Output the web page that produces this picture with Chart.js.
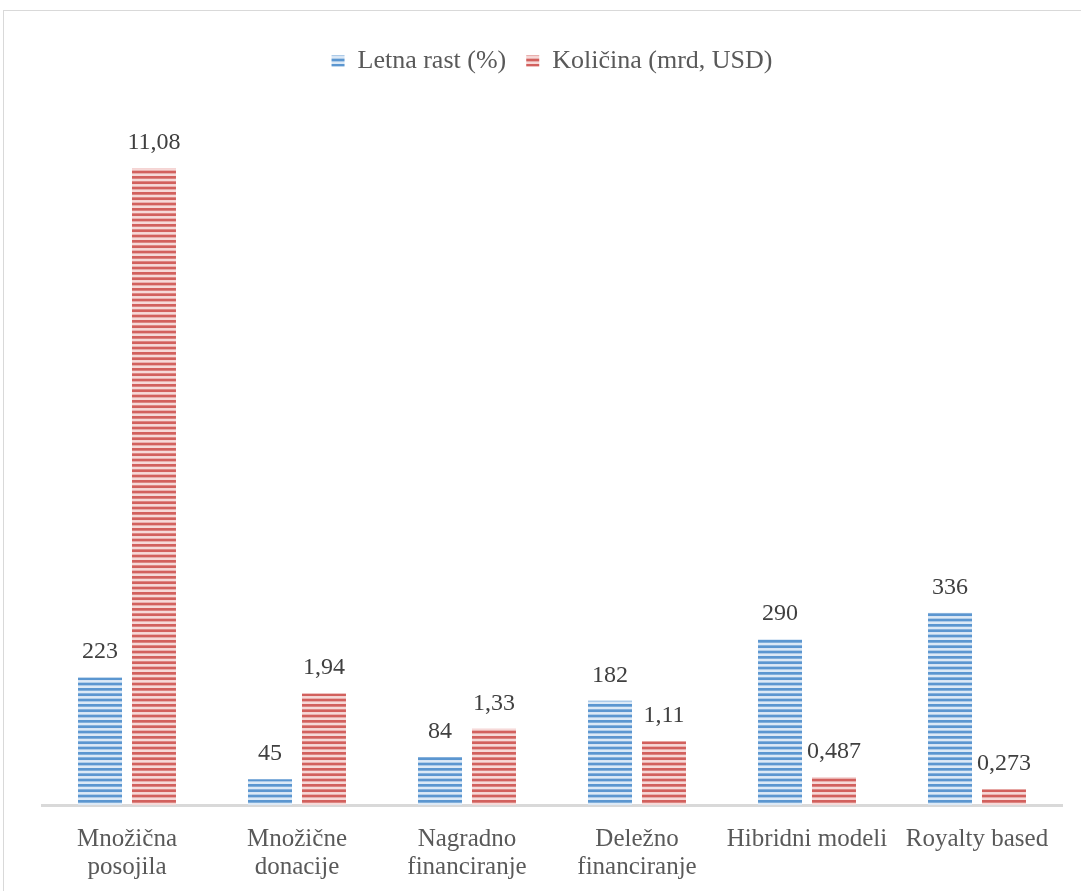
<!DOCTYPE html>
<html>
<head>
<meta charset="utf-8">
<script src="https://cdn.jsdelivr.net/npm/chart.js@4/dist/chart.umd.min.js"></script>
<style>
  html, body { margin: 0; padding: 0; background: #fff; overflow: hidden; }
  #wrap { position: relative; width: 1081px; height: 891px; }
  #frame { position: absolute; left: 3px; top: 10px; width: 1200px; height: 1000px; border: 1.5px solid #d9d9d9; box-sizing: border-box; }
  canvas { position: absolute; left: 0; top: 0; }
</style>
</head>
<body>
<div id="wrap">
  <div id="frame"></div>
  <canvas id="c" width="1081" height="891"></canvas>
</div>
<script>
const categories = [
  ["Množična", "posojila"],
  ["Množične", "donacije"],
  ["Nagradno", "financiranje"],
  ["Deležno", "financiranje"],
  ["Hibridni modeli"],
  ["Royalty based"]
];
const seriesNames = ["Letna rast (%)", "Količina (mrd, USD)"];
const letnaRast = [223, 45, 84, 182, 290, 336];
const kolicina = [11.08, 1.94, 1.33, 1.11, 0.487, 0.273];

function makePattern(dark, light) {
  const c = document.createElement('canvas');
  c.width = 8; c.height = 16;
  const x = c.getContext('2d');
  x.fillStyle = light; x.fillRect(0, 0, 8, 16);
  x.fillStyle = dark;
  for (let i = 0; i < 3; i++) x.fillRect(0, i * 16 / 3, 8, 2.7);
  return x.createPattern(c, 'repeat');
}
const blueFill = makePattern('#5b96d0', '#dce9f6');
const redFill = makePattern('#d2605d', '#f6d9d8');

const FONT = '"Liberation Serif", "DejaVu Serif", serif';

const valueLabels = {
  id: 'valueLabels',
  afterDatasetsDraw(chart) {
    const ctx = chart.ctx;
    ctx.save();
    ctx.font = '24px ' + FONT;
    ctx.fillStyle = '#404040';
    ctx.textAlign = 'center';
    ctx.textBaseline = 'alphabetic';
    chart.data.datasets.forEach((ds, di) => {
      const meta = chart.getDatasetMeta(di);
      meta.data.forEach((el, i) => {
        const txt = String(ds.data[i]).replace('.', ',');
        ctx.fillText(txt, el.x, el.y - 19);
      });
    });
    ctx.restore();
  }
};

new Chart(document.getElementById('c'), {
  type: 'bar',
  data: {
    labels: categories,
    datasets: [
      { label: seriesNames[0], data: letnaRast, backgroundColor: blueFill, yAxisID: 'y', borderWidth: 0 },
      { label: seriesNames[1], data: kolicina, backgroundColor: redFill, yAxisID: 'y2', borderWidth: 0 }
    ]
  },
  options: {
    responsive: false,
    animation: false,
    events: [],
    categoryPercentage: 0.635,
    barPercentage: 0.815,
    layout: { padding: { left: 42, right: 19, top: 28, bottom: -2 } },
    plugins: {
      tooltip: { enabled: false },
      legend: {
        position: 'top',
        labels: {
          font: { family: FONT, size: 26 },
          color: '#595959',
          boxWidth: 13,
          boxHeight: 11,
          padding: 20
        }
      }
    },
    scales: {
      x: {
        grid: { display: false },
        border: { display: true, color: '#d9d9d9', width: 3 },
        ticks: {
          font: { family: FONT, size: 25, lineHeight: 1.12 },
          color: '#595959',
          maxRotation: 0,
          autoSkip: false,
          padding: 12
        }
      },
      y: { display: false, min: 0, max: 1260 },
      y2: { display: false, min: 0, max: 12.54 }
    }
  },
  plugins: [valueLabels]
});
</script>
</body>
</html>
